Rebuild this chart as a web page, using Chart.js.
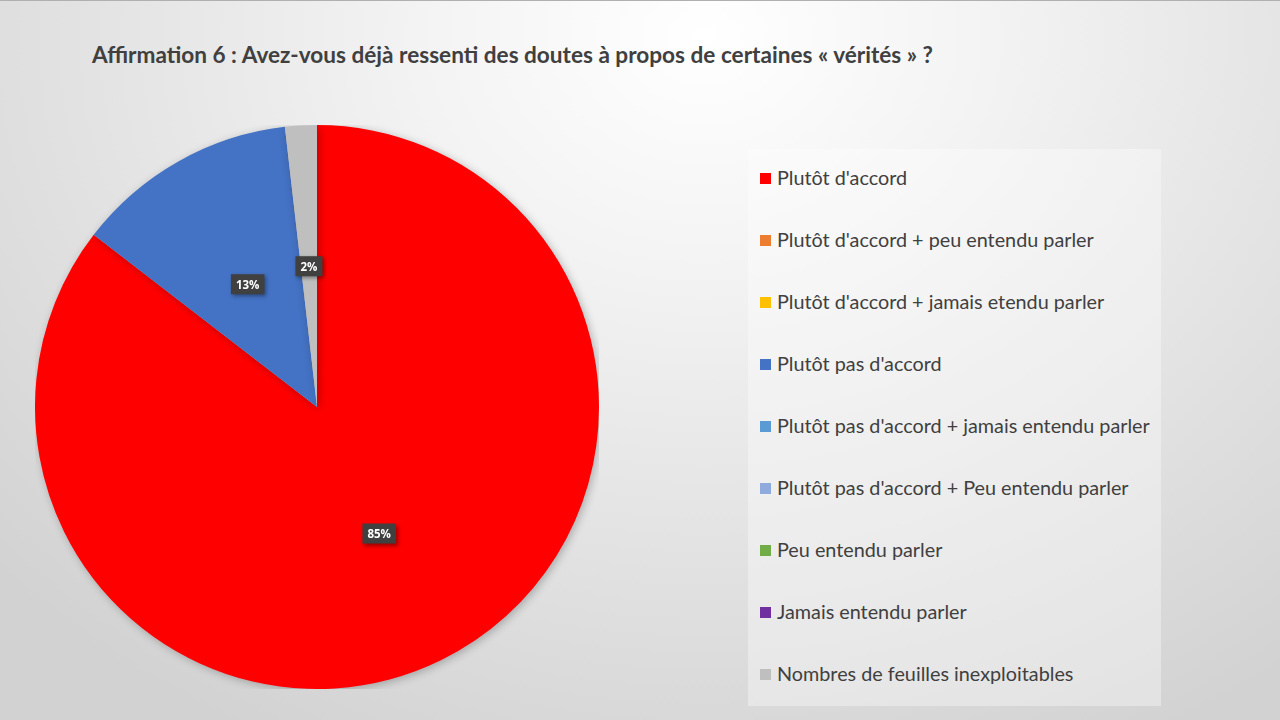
<!DOCTYPE html>
<html lang="fr">
<head>
    <meta charset="utf-8">
    <title>Affirmation 6</title>
    <script src="https://cdn.jsdelivr.net/npm/chart.js@4.4.1/dist/chart.umd.min.js"></script>
    <style>
        /* page = slide, 1280x720 */
        body {
            margin: 0;
            width: 1280px;
            height: 720px;
            overflow: hidden;
            font-family: Lato, "Open Sans", sans-serif;
            background: radial-gradient(ellipse 75% 110% at 55% 5%, #ffffff 0%, #f3f3f3 30%, #d2d2d2 100%);
            position: relative;
            border-top: 1px solid #b0b0b0;
            box-sizing: border-box;
        }

        .title {
            position: absolute;
            left: 92px;
            top: 40px;
            font-size: 22.6px;
            font-weight: bold;
            color: #404040;
            white-space: nowrap;
        }

        .pie-box {
            position: absolute;
            left: 35px;
            top: 124px;
            width: 564px;
            height: 564px;
        }

        .legend {
            position: absolute;
            left: 748px;
            top: 148px;
            width: 413px;
            height: 557px;
            background: rgba(255, 255, 255, 0.35);
        }

        .legend-item {
            position: absolute;
            left: 12px;
            font-size: 19.8px;
            color: #404040;
            white-space: nowrap;
            line-height: 24px;
        }

        .legend-item span {
            display: inline-block;
            width: 11px;
            height: 11px;
            margin-right: 6px;
            vertical-align: 1px;
        }
    </style>
</head>
<body>

<div class="title">Affirmation 6 : Avez-vous déjà ressenti des doutes à propos de certaines « vérités » ?</div>
<div class="pie-box">
    <canvas id="pieChart" width="564" height="564"></canvas>
</div>
<div class="legend" id="legend"></div>

<script>
    const categories = [
        "Plutôt d'accord",
        "Plutôt d'accord + peu entendu parler",
        "Plutôt d'accord + jamais etendu parler",
        "Plutôt pas d'accord",
        "Plutôt pas d'accord + jamais entendu parler",
        "Plutôt pas d'accord + Peu entendu parler",
        "Peu entendu parler",
        "Jamais entendu parler",
        "Nombres de feuilles inexploitables"
    ];
    // number of answer sheets per category
    const counts = [47, 0, 0, 7, 0, 0, 0, 0, 1];
    const colors = ['#FF0000', '#ED7D31', '#FFC000', '#4472C4', '#5B9BD5', '#8FAADC', '#70AD47', '#7030A0', '#BFBFBF'];

    // html legend, one row every 62px
    const legendEl = document.getElementById('legend');
    categories.forEach((label, i) => {
        const item = document.createElement('div');
        item.className = 'legend-item';
        item.style.top = (16 + i * 62) + 'px';
        item.innerHTML = '<span style="background:' + colors[i] + '"></span>' + label;
        legendEl.appendChild(item);
    });

    // soft shadow under the pie
    const shadowPlugin = {
        id: 'pieShadow',
        beforeDatasetsDraw(chart) {
            const ctx = chart.ctx;
            ctx.save();
            ctx.shadowColor = 'rgba(0, 0, 0, 0.25)';
            ctx.shadowBlur = 8;
            ctx.shadowOffsetX = 2;
            ctx.shadowOffsetY = 2;
        },
        afterDatasetsDraw(chart) {
            chart.ctx.restore();
        }
    };

    // dark boxed percentage labels
    const percentLabels = {
        id: 'percentLabels',
        afterDatasetsDraw(chart) {
            const ctx = chart.ctx;
            const data = chart.data.datasets[0].data;
            const total = data.reduce((a, b) => a + b, 0);
            const meta = chart.getDatasetMeta(0);
            ctx.save();
            ctx.font = 'bold 11.5px "Open Sans", sans-serif';
            ctx.textAlign = 'center';
            ctx.textBaseline = 'middle';
            meta.data.forEach((arc, i) => {
                if (!data[i]) return;
                const pos = arc.tooltipPosition();
                const text = Math.round(data[i] / total * 100) + '%';
                const w = ctx.measureText(text).width + 10;
                const h = 20;
                ctx.shadowColor = 'rgba(0, 0, 0, 0.4)';
                ctx.shadowBlur = 4;
                ctx.shadowOffsetX = 2;
                ctx.shadowOffsetY = 2;
                ctx.fillStyle = '#404040';
                ctx.fillRect(pos.x - w / 2, pos.y - h / 2, w, h);
                ctx.shadowColor = 'transparent';
                ctx.fillStyle = '#ffffff';
                ctx.fillText(text, pos.x, pos.y + 1);
            });
            ctx.restore();
        }
    };

    new Chart(document.getElementById('pieChart'), {
        type: 'pie',
        data: {
            labels: categories,
            datasets: [{
                data: counts,
                backgroundColor: colors,
                borderWidth: 0,
                hoverOffset: 0
            }]
        },
        options: {
            responsive: false,
            animation: false,
            layout: { padding: 0 },
            plugins: {
                legend: { display: false },
                tooltip: { enabled: false }
            }
        },
        plugins: [shadowPlugin, percentLabels]
    });
</script>
</body>
</html>
